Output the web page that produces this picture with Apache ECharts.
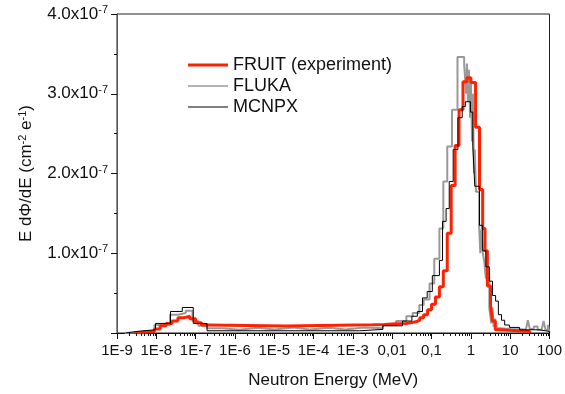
<!DOCTYPE html>
<html><head><meta charset="utf-8">
<script src="https://cdn.jsdelivr.net/npm/echarts@6/dist/echarts.min.js"></script>
<style>html,body{margin:0;padding:0;background:#fff}#c{width:565px;height:394px}</style>
</head><body><div id="c"></div>
<script>
// ---- tick labels / names ----
const xTickLabels = ['1E-9','1E-8','1E-7','1E-6','1E-5','1E-4','1E-3','0,01','0,1','1','10','100'];
const yTickMantissas = ['', '1.0', '2.0', '3.0', '4.0'];
const yTickExponent = '-7';
const seriesNames = ['FRUIT (experiment)', 'FLUKA', 'MCNPX'];

// ---- data: histogram bin edges as log10(E / MeV), values of E dPhi/dE in units of 1e-7 ----
const fruitEdges = [-8.55,-8.3,-8.05,-7.9,-7.75,-7.6,-7.45,-7.3,-7.15,-7.0,-6.85,-6.7,-4.7,-2.5,-2.2,-1.9,-1.65,-1.5,-1.4,-1.3,-1.2,-1.1,-1.0,-0.9,-0.8,-0.7,-0.6,-0.5,-0.4,-0.3,-0.2,-0.1,0.0,0.12,0.22,0.3,0.36,0.42,0.5,0.55,0.62,0.75,1.5];
const fruitValues = [0.01,0.02,0.05,0.09,0.12,0.15,0.19,0.21,0.18,0.13,0.10,0.088,0.105,0.108,0.115,0.12,0.13,0.14,0.16,0.19,0.23,0.29,0.36,0.45,0.58,0.78,1.25,1.85,2.35,2.80,3.15,3.20,3.14,2.58,1.80,1.31,1.03,0.59,0.35,0.15,0.04,0.02];

const flukaEdges = [-8.8,-8.4,-8.05,-7.65,-7.45,-7.25,-7.08,-6.93,-6.71,-6.3,-5.9,-5.4,-5.0,-4.5,-4.1,-3.6,-3.2,-2.7,-2.24,-1.9,-1.64,-1.48,-1.31,-1.2,-1.05,-0.93,-0.8,-0.7,-0.6,-0.48,-0.34,-0.17,-0.12,-0.1,-0.07,-0.05,-0.02,0.0,0.03,0.05,0.08,0.1,0.13,0.21,0.24,0.27,0.3,0.34,0.38,0.47,0.52,0.55,0.58,0.62,0.66,0.75,1.0,1.4,1.45,1.5,1.6,1.7,1.8,1.85,1.9,1.96,2.0];
const flukaValues = [0.01,0.025,0.10,0.23,0.25,0.28,0.15,0.09,0.06,0.04,0.065,0.045,0.07,0.045,0.065,0.045,0.07,0.06,0.10,0.15,0.21,0.25,0.35,0.42,0.62,0.93,1.31,1.90,2.34,2.80,3.46,3.36,3.0,3.38,2.9,3.3,2.7,3.2,2.4,3.0,2.0,2.3,1.77,1.35,1.0,1.3,1.02,0.9,0.69,0.31,0.12,0.32,0.08,0.18,0.06,0.05,0.045,0.06,0.16,0.05,0.08,0.04,0.06,0.15,0.04,0.10];

const mcnpxEdges = [-8.78,-8.4,-8.02,-7.64,-7.34,-7.06,-6.71,-2.83,-2.24,-1.74,-1.5,-1.36,-1.23,-1.11,-0.98,-0.8,-0.72,-0.63,-0.55,-0.45,-0.33,-0.22,-0.14,-0.01,0.05,0.1,0.22,0.3,0.38,0.47,0.55,0.63,0.7,0.78,0.86,0.98,1.24,1.74,2.0];
const mcnpxValues = [0.025,0.04,0.12,0.27,0.32,0.12,0.028,0.045,0.09,0.15,0.21,0.27,0.44,0.52,0.72,0.91,1.40,1.56,1.90,2.30,2.70,2.84,2.90,2.77,2.34,1.84,1.35,1.03,0.83,0.65,0.47,0.40,0.23,0.16,0.10,0.07,0.04,0.02];

// ---- helpers ----
function stepPoints(edges, vals) {
  const pts = [[Math.pow(10, edges[0]), 0]];
  vals.forEach((v, i) => pts.push([Math.pow(10, edges[i]), v]));
  pts.push([Math.pow(10, edges[edges.length - 1]), 0]);
  return pts;
}
// legend icon: a horizontal bar of given thickness inside a 40x12 box
function legendBar(th) {
  const y0 = 6 - th / 2, y1 = 6 + th / 2;
  return 'path://M0,0L0.01,0L0,0.01Z M0,' + y0 + 'L40,' + y0 + 'L40,' + y1 + 'L0,' + y1 + 'Z M40,12L39.99,12L40,11.99Z';
}
const minorTickEnergies = [];
for (let n = -9; n <= 1; n++) for (let k = 2; k <= 9; k++) minorTickEnergies.push([k * Math.pow(10, n), 0]);

const FONT = "'Liberation Sans', Arial, sans-serif";
const chart = echarts.init(document.getElementById('c'), null, {renderer: 'canvas'});
chart.setOption({
  animation: false,
  backgroundColor: '#fff',
  grid: {left: 117, right: 14, top: 14, bottom: 59, show: true, borderColor: '#222', borderWidth: 1, containLabel: false},
  legend: {
    data: [
      {name: seriesNames[0], icon: legendBar(3)},
      {name: seriesNames[1], icon: legendBar(1.6)},
      {name: seriesNames[2], icon: legendBar(1)}
    ],
    orient: 'vertical', left: 183, top: 51, padding: 5,
    itemWidth: 40, itemHeight: 12, itemGap: 3,
    textStyle: {fontFamily: FONT, fontSize: 18, color: '#111'},
    selectedMode: false
  },
  xAxis: {
    type: 'log', logBase: 10, min: 1e-9, max: 100, interval: 1,
    name: 'Neutron Energy (MeV)', nameLocation: 'middle', nameGap: 39,
    nameTextStyle: {fontFamily: FONT, fontSize: 17, color: '#111'},
    axisLine: {show: true, lineStyle: {color: '#111', width: 1}},
    axisTick: {show: true, inside: false, length: 6, lineStyle: {color: '#111'}},
    minorTick: {show: false},
    splitLine: {show: false},
    axisLabel: {
      fontFamily: FONT, fontSize: 15, color: '#111', margin: 10,
      formatter: v => xTickLabels[Math.round(Math.log10(v)) + 9]
    }
  },
  yAxis: {
    type: 'value', min: 0, max: 4, interval: 1,
    name: '{a|E d\u03A6/dE (cm}{s|-2}{a| e}{s|-1}{a|)}',
    nameLocation: 'middle', nameGap: 81, nameRotate: 90,
    nameTextStyle: {rich: {
      a: {fontFamily: FONT, fontSize: 17, color: '#111', lineHeight: 19},
      s: {fontFamily: FONT, fontSize: 11, color: '#111', verticalAlign: 'top', lineHeight: 11}
    }},
    axisLine: {show: true, lineStyle: {color: '#555', width: 1}},
    axisTick: {show: true, inside: false, length: 6, lineStyle: {color: '#111'}},
    minorTick: {show: true, splitNumber: 2, length: 3, lineStyle: {color: '#111'}},
    splitLine: {show: false},
    axisLabel: {
      margin: 9,
      formatter: v => {
        const i = Math.round(v);
        if (!yTickMantissas[i]) return '';
        return '{m|' + yTickMantissas[i] + 'x10}{s|' + yTickExponent + '}';
      },
      rich: {
        m: {fontFamily: FONT, fontSize: 17, color: '#111', lineHeight: 19},
        s: {fontFamily: FONT, fontSize: 11, color: '#111', verticalAlign: 'top', lineHeight: 11}
      }
    }
  },
  series: [
    {name: 'FLUKA', type: 'line', step: 'end', symbol: 'none', z: 2,
     data: stepPoints(flukaEdges, flukaValues),
     lineStyle: {color: '#999999', width: 2}, itemStyle: {color: '#999999'}},
    {name: 'FRUIT (experiment)', type: 'line', step: 'end', symbol: 'none', z: 3,
     data: stepPoints(fruitEdges, fruitValues),
     lineStyle: {color: '#ff2200', width: 3}, itemStyle: {color: '#ff2200'}},
    {name: 'MCNPX', type: 'line', step: 'end', symbol: 'none', z: 4,
     data: stepPoints(mcnpxEdges, mcnpxValues),
     lineStyle: {color: '#000000', width: 1}, itemStyle: {color: '#000000'}},
    {name: 'minorTicks', type: 'custom', clip: false, silent: true, z: 5,
     data: minorTickEnergies,
     renderItem: (params, api) => {
       const p = api.coord([api.value(0), 0]);
       const x = Math.round(p[0]) + 0.5;
       return {type: 'line', shape: {x1: x, y1: p[1], x2: x, y2: p[1] + 3},
               style: {stroke: '#111', lineWidth: 1}};
     }}
  ]
});
</script></body></html>
